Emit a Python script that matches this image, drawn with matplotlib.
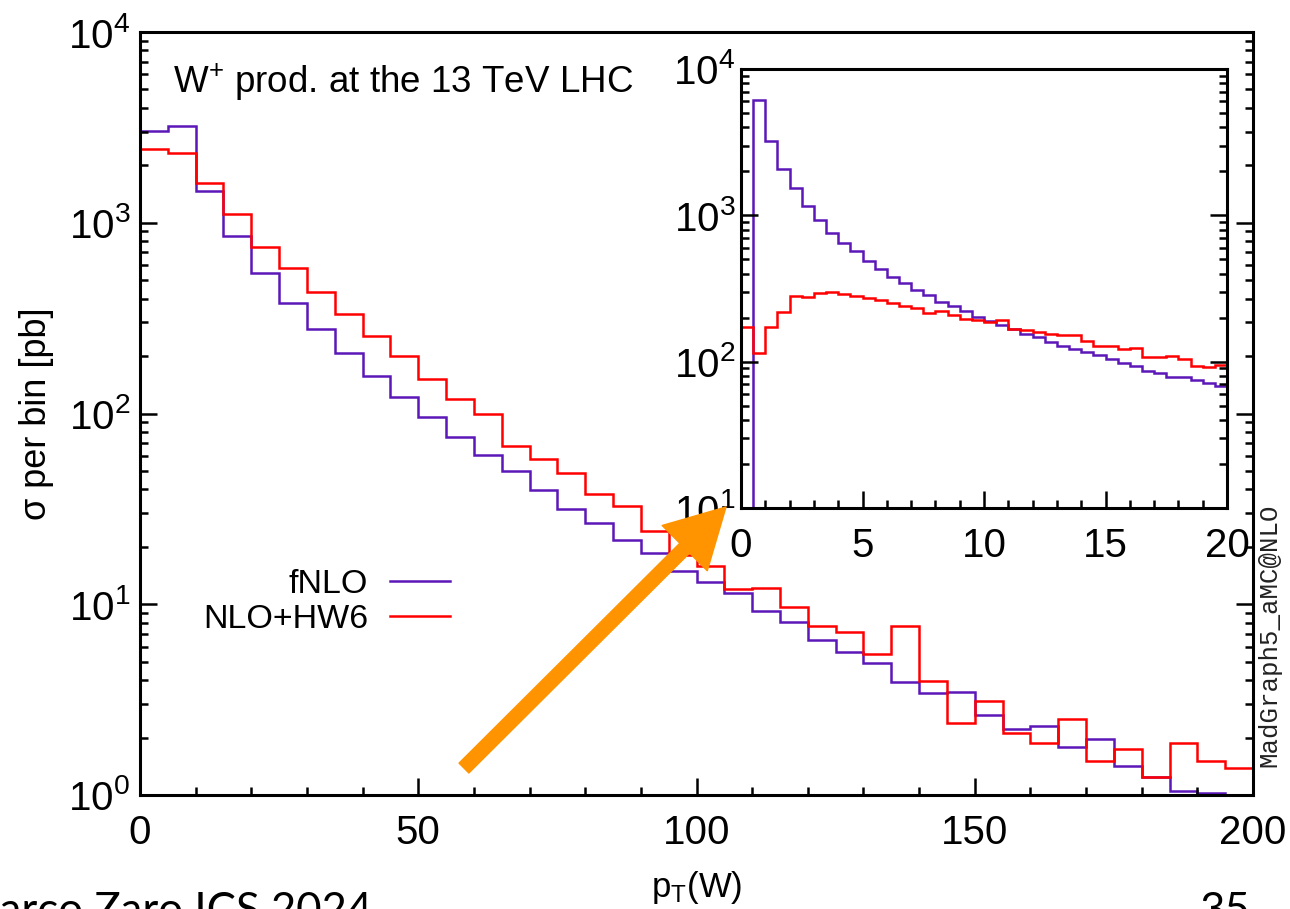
import numpy as np
import matplotlib
matplotlib.use("Agg")
import matplotlib.pyplot as plt
from matplotlib.ticker import MultipleLocator, LogLocator, NullFormatter
from matplotlib.patches import FancyArrowPatch

plt.rcParams['font.family'] = ['Liberation Sans', 'DejaVu Sans']
plt.rcParams['mathtext.fontset'] = 'custom'
plt.rcParams['mathtext.rm'] = 'Liberation Sans'
plt.rcParams['mathtext.it'] = 'Liberation Sans:italic'
plt.rcParams['mathtext.bf'] = 'Liberation Sans:bold'

# --- DATA ---
# main plot: pT(W) 0-200 GeV, 5 GeV bins
main_edges = np.arange(0, 205, 5)
fnlo_main = [3030, 3210, 1470, 853, 543, 381, 276, 207, 157, 122,
             96, 75.4, 60.4, 50.1, 39.6, 31.7, 26.8, 21.7, 18.5, 14.9,
             13.1, 11.5, 9.22, 8.04, 6.50, 5.60, 4.90, 3.91, 3.41, 3.45,
             2.63, 2.23, 2.30, 1.78, 1.96, 1.42, 1.24, 1.05, 1.02, 0.5]
nlohw6_main = [2430, 2330, 1620, 1107, 749, 582, 435, 333, 256, 199,
               152, 119, 99.4, 67.8, 57.7, 48.9, 37.8, 32.7, 24.3, 18.1,
               15.9, 12.0, 12.2, 9.71, 7.69, 7.13, 5.48, 7.69, 3.96, 2.39,
               3.11, 2.12, 1.87, 2.50, 1.50, 1.74, 1.25, 1.87, 1.50, 1.38]

# inset: pT(W) 0-20 GeV, 0.5 GeV bins
inset_edges = np.arange(0, 20.5, 0.5)
fnlo_inset = [1, 6150, 3243, 2077, 1531, 1159, 930, 758, 651, 571,
              490, 428, 381, 347, 310, 286, 256, 240, 221, 203,
              191, 178, 166, 154, 148, 137, 127, 122, 117, 111,
              104, 98.5, 93.5, 86.9, 83.4, 79.1, 78, 75.0, 71.1, 68.6]
nlohw6_inset = [172, 114, 172, 220, 280, 276, 293, 298, 289, 280,
                271, 265, 251, 239, 234, 216, 221, 207, 195, 192,
                186, 193, 167, 165, 160, 154, 152, 151, 139, 127,
                128, 122, 124, 108, 108, 110, 104, 93.9, 91.6, 94.9]

labels = ['fNLO', 'NLO+HW6']
colors = ['#5b17b8', '#ff0000']

# --- FIGURE ---
W, H = 1290, 909
fig = plt.figure(figsize=(W / 100, H / 100), dpi=100)
ax = fig.add_axes([140 / W, 1 - 795 / H, (1253 - 140) / W, (795 - 32) / H])
axin = fig.add_axes([741 / W, 1 - 508 / H, (1227 - 741) / W, (508 - 69) / H])

for a in (ax, axin):
    for s in a.spines.values():
        s.set_linewidth(2.2)
    a.set_yscale('log')
    a.yaxis.set_minor_locator(LogLocator(base=10, subs=np.arange(2, 10)))
    a.yaxis.set_minor_formatter(NullFormatter())
    a.tick_params(which='both', direction='in', top=False, right=True,
                  width=1.8, labelsize=29, colors='black')
    a.tick_params(which='major', length=12)
    a.tick_params(which='minor', length=5.5)

# main histograms
ax.stairs(fnlo_main, main_edges, baseline=None, color=colors[0], lw=1.8, label=labels[0])
ax.stairs(nlohw6_main, main_edges, baseline=None, color=colors[1], lw=1.8, label=labels[1])
ax.set_xlim(0, 200)
ax.set_ylim(1, 1e4)
ax.xaxis.set_major_locator(MultipleLocator(50))
ax.xaxis.set_minor_locator(MultipleLocator(10))
ax.tick_params(axis='x', pad=14)
ax.tick_params(axis='y', pad=7)
ax.set_ylabel('σ per bin [pb]', fontsize=26, labelpad=10)
ax.set_xlabel(r'p$_{\mathrm{T}}$(W)', fontsize=25, labelpad=12)
ax.text(0.0297, 0.92, r'W$^{+}$ prod. at the 13 TeV LHC', transform=ax.transAxes,
        fontsize=26.5, va='baseline', ha='left')

ax.legend(loc='center right', bbox_to_anchor=(0.2785, 0.253), frameon=False,
          markerfirst=False, fontsize=24.5, handlelength=1.75, handletextpad=0.65,
          labelspacing=0.1, borderpad=0, borderaxespad=0)

# inset histograms
axin.stairs(fnlo_inset, inset_edges, baseline=None, color=colors[0], lw=1.8)
axin.stairs(nlohw6_inset, inset_edges, baseline=None, color=colors[1], lw=1.8)
axin.set_xlim(0, 20)
axin.set_ylim(10, 1e4)
axin.xaxis.set_major_locator(MultipleLocator(5))
axin.xaxis.set_minor_locator(MultipleLocator(1))
axin.tick_params(axis='x', pad=14)
axin.tick_params(axis='y', pad=4)

# orange arrow pointing to the inset
arrow = FancyArrowPatch((462 / W, 1 - 770 / H), (728 / W, 1 - 505 / H),
                        transform=fig.transFigure, color='#ff9400',
                        arrowstyle='simple,head_width=2.3,head_length=2.1,tail_width=0.5',
                        mutation_scale=20, zorder=5)
fig.add_artist(arrow)

# watermark and slide footer (cut by the page edge, as in the slide)
fig.text(1269 / W, 1 - 635 / H, 'MadGraph5_aMC@NLO', rotation=90, fontsize=18.5,
         family='Liberation Mono', ha='center', va='center', color='#222222')
fig.text(372 / W, 1 - 891 / H, 'Marco Zaro ICS 2024', fontsize=31.5, family='Lato',
         ha='right', va='top')
fig.text(1250 / W, 1 - 891 / H, '35', fontsize=31.5, family='Lato', ha='right', va='top')

fig.savefig('out.png', dpi=100)
